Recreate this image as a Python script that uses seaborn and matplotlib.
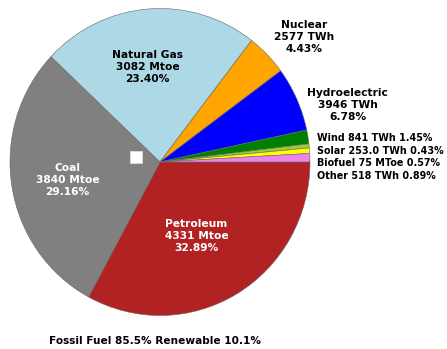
import matplotlib
matplotlib.use("Agg")
import matplotlib.pyplot as plt
import seaborn as sns
from matplotlib.patches import Rectangle

sns.set_theme(style="white")
plt.rcParams["font.family"] = ["DejaVu Sans"]
plt.rcParams["text.color"] = "black"

# World primary energy consumption by source
sources = ["Petroleum", "Coal", "Natural Gas", "Nuclear", "Hydroelectric",
           "Wind", "Solar", "Biofuel", "Other"]
amounts = ["4331 Mtoe", "3840 Mtoe", "3082 Mtoe", "2577 TWh", "3946 TWh",
           "841 TWh", "253.0 TWh", "75 MToe", "518 TWh"]
shares = [32.89, 29.16, 23.40, 4.43, 6.78, 1.45, 0.43, 0.57, 0.89]
colors = ["firebrick", "gray", "lightblue", "orange", "blue",
          "green", "yellowgreen", "yellow", "violet"]
summary = "Fossil Fuel 85.5% Renewable 10.1%"

fig = plt.figure(figsize=(4.47, 3.49), dpi=100)
ax = fig.add_axes([10 / 447, 1 - 315.5 / 349, 300 / 447, 307 / 349])

ax.pie(shares, colors=colors, startangle=0, counterclock=False,
       wedgeprops=dict(edgecolor="#666666", linewidth=0.4))
ax.set_aspect("auto")
ax.set_xlim(-1, 1)
ax.set_ylim(-1, 1)

bold = dict(fontsize=7.7, fontweight="bold", ha="center", va="center",
            linespacing=1.3)

def label(i):
    return f"{sources[i]}\n{amounts[i]}\n{shares[i]:.2f}%"

# labels inside the large wedges
ax.text(-0.083, 0.619, label(2), color="black", **bold)
ax.text(-0.617, -0.117, label(1), color="white", **bold)
ax.text(0.243, -0.482, label(0), color="white", **bold)

# labels beside the medium wedges
ax.text(0.963, 0.814, label(3), color="black", **bold)
ax.text(1.25, 0.371, label(4), color="black", **bold)

# one-line labels for the thin wedges
for i, y in zip(range(5, 9), [0.155, 0.074, -0.007, -0.091]):
    ax.text(1.045, y, f"{sources[i]} {amounts[i]} {shares[i]:.2f}%",
            color="black", fontsize=6.9, fontweight="bold",
            ha="left", va="center", clip_on=False)

# small white marker near the centre
ax.add_patch(Rectangle((-0.2, -0.005), 0.08, 0.078, facecolor="white",
                       edgecolor="#dddddd", linewidth=0.6, zorder=5))

fig.text(155 / 447, 1 - 341 / 349, summary, color="black", fontsize=7.6,
         fontweight="bold", ha="center", va="center")

fig.savefig("out.png", dpi=100)
